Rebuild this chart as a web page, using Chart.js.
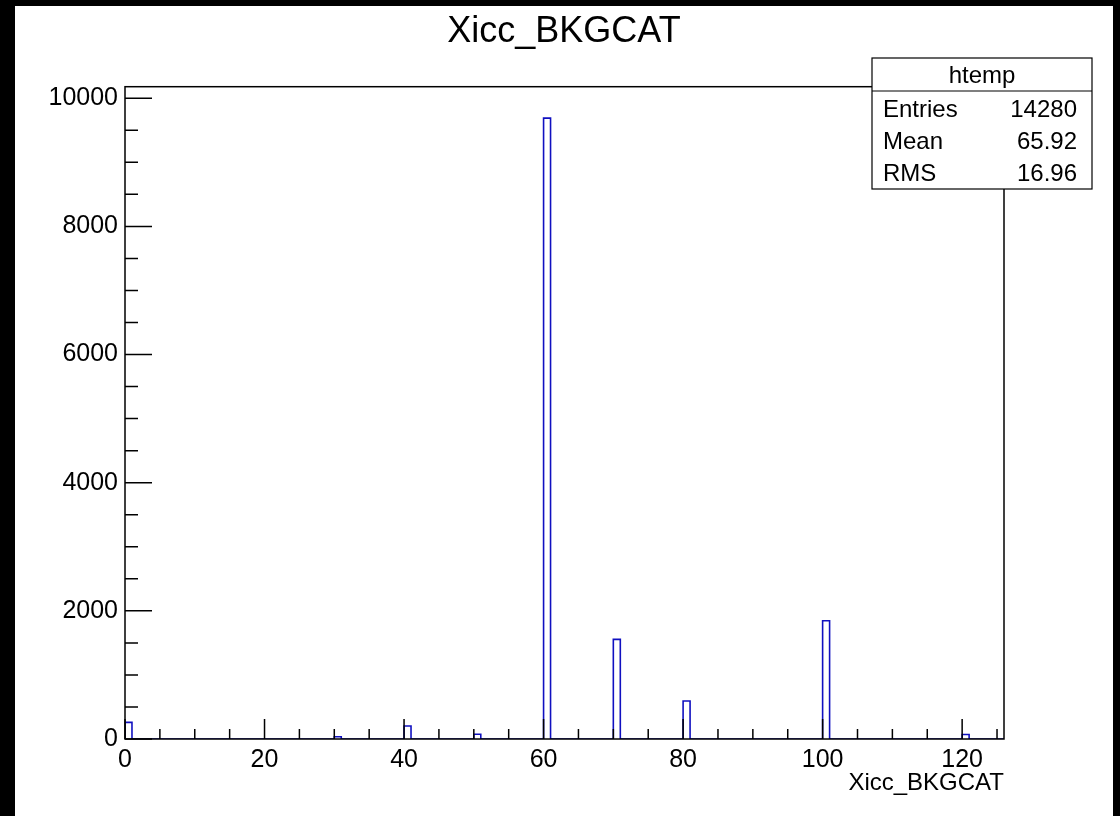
<!DOCTYPE html>
<html>
<head>
<meta charset="utf-8">
<script src="https://cdn.jsdelivr.net/npm/chart.js@4"></script>
<style>
  body { margin: 0; background: #000; }
  #wrap { position: absolute; left: 15px; top: 6px; width: 1098px; height: 810px; background: #fff; }
</style>
</head>
<body>
<div id="wrap"><canvas id="histo" width="1098" height="810"></canvas></div>
<script>
// histogram: bins of width 1 from 0 to 126, only non-empty bins listed
var binLow = [0, 30, 40, 50, 60, 70, 80, 100, 120];
var binCounts = [260, 36, 203, 73, 9690, 1555, 593, 1846, 70];
var xMin = 0, xMax = 126, binWidth = 1;
var yMax = 10180;
var xTickVals = [0, 20, 40, 60, 80, 100, 120];
var yTickVals = [0, 2000, 4000, 6000, 8000, 10000];
var statsLabels = ["Entries", "Mean", "RMS"];
var statsValues = ["14280", "65.92", "16.96"];
var histName = "htemp";
var fontFam = "'Liberation Sans', Arial, sans-serif";

// outline of the histogram, as ROOT draws it
var outline = [{x: xMin, y: 0}];
for (let b = xMin; b < xMax; b += binWidth) {
  var i = binLow.indexOf(b);
  var c = i >= 0 ? binCounts[i] : 0;
  outline.push({x: b, y: c});
  outline.push({x: b + binWidth, y: c});
}
outline.push({x: xMax, y: 0});

// frame and inside ticks
var frameTicks = {
  id: 'frameTicks',
  afterDatasetsDraw(chart) {
    var ctx = chart.ctx, a = chart.chartArea, x = chart.scales.x, y = chart.scales.y;
    ctx.save();
    ctx.strokeStyle = '#000';
    ctx.lineWidth = 1.5;
    ctx.beginPath();
    for (let v = 0; v <= xMax; v += 5) {
      var px = x.getPixelForValue(v);
      var len = v % 20 === 0 ? 20 : 10;
      ctx.moveTo(px, a.bottom);
      ctx.lineTo(px, a.bottom - len);
    }
    for (let v = 0; v <= yMax; v += 500) {
      var py = y.getPixelForValue(v);
      var len2 = v % 2000 === 0 ? 27 : 13;
      ctx.moveTo(a.left, py);
      ctx.lineTo(a.left + len2, py);
    }
    ctx.stroke();
    ctx.strokeRect(a.left, a.top, a.right - a.left, a.bottom - a.top);
    ctx.restore();
  }
};

// stats box top right
var statsBox = {
  id: 'statsBox',
  afterDraw(chart) {
    var ctx = chart.ctx;
    var bx = 857, by = 52, bw = 220, bh = 131, hh = 33;
    ctx.save();
    ctx.fillStyle = '#fff';
    ctx.fillRect(bx, by, bw, bh);
    ctx.strokeStyle = '#000';
    ctx.lineWidth = 1.2;
    ctx.strokeRect(bx, by, bw, bh);
    ctx.beginPath();
    ctx.moveTo(bx, by + hh);
    ctx.lineTo(bx + bw, by + hh);
    ctx.stroke();
    ctx.fillStyle = '#000';
    ctx.font = '24px ' + fontFam;
    ctx.textBaseline = 'alphabetic';
    ctx.textAlign = 'center';
    ctx.fillText(histName, bx + bw / 2, by + 25);
    for (let i = 0; i < statsLabels.length; i++) {
      var base = by + 59 + i * 32;
      ctx.textAlign = 'left';
      ctx.fillText(statsLabels[i], bx + 11, base);
      ctx.textAlign = 'right';
      ctx.fillText(statsValues[i], bx + bw - 15, base);
    }
    ctx.restore();
  }
};

var ctx = document.getElementById("histo").getContext("2d");
var myChart = new Chart(ctx, {
  type: "line",
  data: {
    datasets: [{
      label: histName,
      data: outline,
      borderColor: "#1010c0",
      borderWidth: 1.6,
      pointRadius: 0,
      fill: false,
      tension: 0
    }]
  },
  options: {
    responsive: false,
    animation: false,
    layout: { padding: 0 },
    plugins: {
      legend: { display: false },
      tooltip: { enabled: false },
      title: {
        display: true,
        text: "Xicc_BKGCAT",
        color: "#000",
        font: { family: fontFam, size: 36, weight: 'normal' },
        padding: { top: 4, bottom: 33.5 }
      }
    },
    scales: {
      x: {
        type: "linear",
        min: xMin,
        max: xMax,
        grid: { display: false, drawTicks: false },
        border: { display: false },
        ticks: {
          autoSkip: false,
          color: "#000",
          padding: 6,
          maxRotation: 0,
          font: { family: fontFam, size: 25 },
          callback: function (v) { return String(v); }
        },
        afterBuildTicks: function (s) { s.ticks = xTickVals.map(v => ({value: v})); },
        afterFit: function (s) { s.height = 77; },
        title: {
          display: true,
          text: "Xicc_BKGCAT",
          align: "end",
          color: "#000",
          font: { family: fontFam, size: 24 },
          padding: { top: 0, bottom: 18.6 }
        }
      },
      y: {
        min: 0,
        max: yMax,
        grid: { display: false, drawTicks: false },
        border: { display: false },
        ticks: {
          autoSkip: false,
          color: "#000",
          padding: 7,
          font: { family: fontFam, size: 25 },
          callback: function (v) { return String(v); }
        },
        afterBuildTicks: function (s) { s.ticks = yTickVals.map(v => ({value: v})); },
        afterFit: function (s) { s.width = 110; }
      },
      yRight: {
        position: "right",
        min: 0,
        max: yMax,
        grid: { display: false, drawTicks: false },
        border: { display: false },
        ticks: { display: false },
        afterFit: function (s) { s.width = 109; }
      }
    }
  },
  plugins: [frameTicks, statsBox]
});
</script>
</body>
</html>
